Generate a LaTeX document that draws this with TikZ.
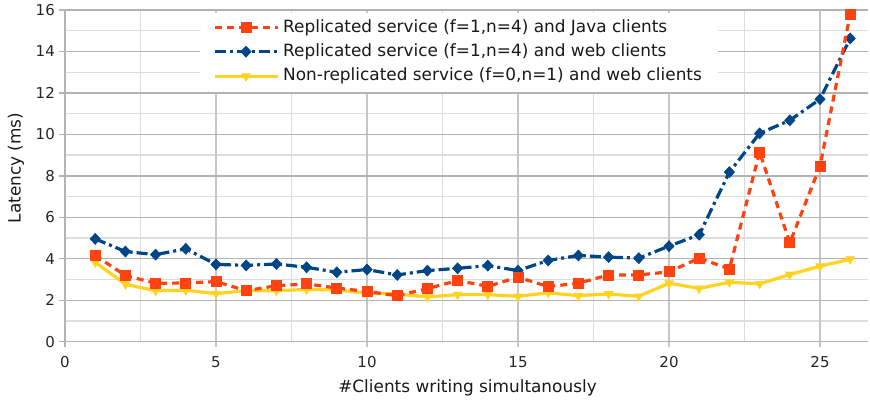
\documentclass[tikz,border=0pt]{standalone}
\usepackage{fontspec}
\setmainfont{DejaVu Sans}
\usetikzlibrary{plotmarks}
\definecolor{serA}{HTML}{FF420E}
\definecolor{serB}{HTML}{004586}
\definecolor{serC}{HTML}{FFD320}
\definecolor{gmaj}{HTML}{B3B3B3}
\definecolor{gvmaj}{HTML}{C6C6C6}
\definecolor{gmin}{HTML}{DDDDDD}
\tikzset{
  majgrid/.style={gmaj, line width=1.3pt},
  vmajgrid/.style={gvmaj, line width=1.3pt},
  mingrid/.style={gmin, line width=1.3pt},
  javaline/.style={serA, line width=3.2pt, dash pattern=on 7pt off 5pt,
    mark=square*, mark size=5pt, mark options={solid, fill=serA, draw=serA, line width=0.8pt}},
  webline/.style={serB, line width=3.2pt, dash pattern=on 11pt off 4pt on 3pt off 4pt,
    mark=diamond*, mark size=5.5pt, mark options={solid, xscale=1.25, fill=serB, draw=serB, line width=0.6pt}},
  nonline/.style={serC, line width=3.2pt,
    mark=triangle*, mark size=5pt, mark options={solid, rotate=180, fill=serC, draw=serC, line width=0.6pt}},
  ticklab/.style={inner sep=0pt, text=black!85, font=\fontsize{15}{18}\selectfont},
  legtext/.style={anchor=west, inner sep=0pt, text=black!90},
}
\begin{document}
\begin{tikzpicture}[x=1pt, y=-1pt, font=\fontsize{16.9}{20}\selectfont]
\useasboundingbox (0,0) rectangle (870,401);
\begin{scope}[shift={(65,341.7)}, x=30.2pt, y=20.73pt]
  % minor grid
  \foreach \v in {1,3,5,7,9,11,13,15}
    \draw[mingrid] (0,\v) -- (26.6,\v);
  \foreach \u in {2.5,7.5,12.5,17.5,22.5}
    \draw[mingrid] (\u,0) -- (\u,16);
  % major grid with ticks
  \foreach \u in {5,10,...,25}
    \draw[vmajgrid] (\u,-0.25) -- (\u,16);
  \foreach \v in {2,4,...,16}
    \draw[majgrid] (-0.2,\v) -- (26.6,\v);
  % axes
  \draw[majgrid] (-0.2,0) -- (26.6,0);
  \draw[majgrid] (0,-0.25) -- (0,16);
  % tick labels
  \foreach \v in {0,2,...,16}
    \node[ticklab, anchor=east] (yl\v) at (-0.33,\v) {\v};
  \foreach \u in {0,5,...,25}
    \node[ticklab] (xl\u) at (\u,-0.98) {\u};
\end{scope}
% axis titles
\node[rotate=90, text=black!90] (ytitle) at (16,168) {Latency (ms)};
\node[text=black!90] (xtitle) at (467.5,388) {\#Clients writing simultanously};
% legend
\fill[white] (200,13) rectangle (718,92);
\draw[javaline, mark indices={2}] plot coordinates {(215,27.7) (246,27.7) (278,27.7)};
\draw[webline, mark indices={2}] plot coordinates {(215,51.7) (246,51.7) (278,51.7)};
\draw[nonline, mark indices={2}] plot coordinates {(215,76.3) (246,76.3) (278,76.3)};
\node[legtext] (leg1) at (283,27.7) {Replicated service (f=1,n=4) and Java clients};
\node[legtext] (leg2) at (283,51.7) {Replicated service (f=1,n=4) and web clients};
\node[legtext] (leg3) at (283,76.3) {Non-replicated service (f=0,n=1) and web clients};
% data
\begin{scope}[shift={(65,341.7)}, x=30.2pt, y=20.73pt]
  \draw[nonline] plot coordinates {
    (1,3.83) (2,2.77) (3,2.46) (4,2.48) (5,2.32) (6,2.46) (7,2.46) (8,2.52) (9,2.5) (10,2.34)
    (11,2.3) (12,2.16) (13,2.27) (14,2.27) (15,2.19) (16,2.36) (17,2.22) (18,2.3) (19,2.19) (20,2.82)
    (21,2.57) (22,2.87) (23,2.79) (24,3.24) (25,3.64) (26,3.98)};
  \draw[webline] plot coordinates {
    (1,4.96) (2,4.35) (3,4.2) (4,4.48) (5,3.73) (6,3.68) (7,3.75) (8,3.59) (9,3.35) (10,3.48)
    (11,3.22) (12,3.43) (13,3.54) (14,3.67) (15,3.43) (16,3.92) (17,4.16) (18,4.08) (19,4.03) (20,4.61)
    (21,5.16) (22,8.18) (23,10.05) (24,10.68) (25,11.7) (26,14.63)};
  \draw[javaline] plot coordinates {
    (1,4.16) (2,3.19) (3,2.82) (4,2.83) (5,2.9) (6,2.46) (7,2.7) (8,2.79) (9,2.59) (10,2.42)
    (11,2.22) (12,2.56) (13,2.95) (14,2.67) (15,3.11) (16,2.66) (17,2.82) (18,3.22) (19,3.22) (20,3.37)
    (21,4.03) (22,3.51) (23,9.15) (24,4.77) (25,8.47) (26,15.8)};
\end{scope}
\end{tikzpicture}
\end{document}
